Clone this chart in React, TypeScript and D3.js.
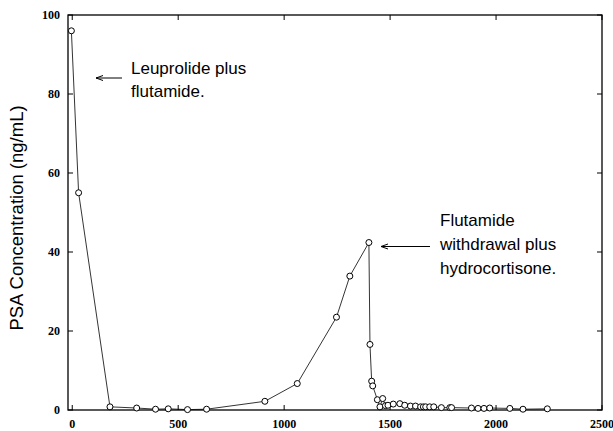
import React from "react";
import * as d3 from "d3";

// days since start of therapy
const days = [-4, 30, 178, 304, 393, 453, 544, 634, 909, 1062, 1247, 1310, 1400, 1405, 1413, 1418,
	1440, 1452, 1465, 1478, 1490, 1515, 1546, 1569, 1596, 1620, 1644, 1657, 1668, 1687, 1706,
	1742, 1782, 1790, 1884, 1915, 1943, 1970, 2065, 2127, 2242];
// PSA (ng/mL)
const psa = [96, 55, 0.8, 0.5, 0.2, 0.3, 0.1, 0.2, 2.2, 6.7, 23.5, 33.9, 42.4, 16.6, 7.3, 6.1,
	2.6, 0.8, 2.9, 1.1, 1.2, 1.5, 1.6, 1.2, 1.0, 1.0, 0.8, 0.8, 0.8, 0.8, 0.8,
	0.6, 0.6, 0.6, 0.5, 0.4, 0.4, 0.5, 0.4, 0.2, 0.3];

const xTicks = [0, 500, 1000, 1500, 2000, 2500];
const yTicks = [0, 20, 40, 60, 80, 100];

const noteA = ["Leuprolide plus", "flutamide."];
const noteB = ["Flutamide", "withdrawal plus", "hydrocortisone."];

export default function App() {

	let layout = {"width": 613, "height": 431,
				  "left": 68, "right": 602, "top": 15, "bottom": 410};

	let xScale = d3.scaleLinear()
					.domain([-20, 2500])
					.range([layout.left, layout.right]);

	let yScale = d3.scaleLinear()
					.domain([0, 100])
					.range([layout.bottom, layout.top]);

	let points = days.map((d, i) => [d, psa[i]]);

	let line = d3.line()
				.x(d => xScale(d[0]))
				.y(d => yScale(d[1]));

	const tickFont = {fontFamily: "Liberation Serif, Times New Roman, serif", fontWeight: "bold", fontSize: 12};
	const sans = "Liberation Sans, Arial, Helvetica, sans-serif";

	return (
		<svg width={layout.width} height={layout.height}
			 style={{position: "absolute", left: 0, top: 0, background: "white"}}>

			<rect x={layout.left} y={layout.top}
				  width={layout.right - layout.left} height={layout.bottom - layout.top}
				  fill="none" stroke="black" strokeWidth={1.3} />

			{xTicks.map(t => (
				<g key={`x${t}`}>
					<line x1={xScale(t)} x2={xScale(t)} y1={layout.bottom} y2={layout.bottom - 5} stroke="black" />
					<line x1={xScale(t)} x2={xScale(t)} y1={layout.top} y2={layout.top + 5} stroke="black" />
					<text x={xScale(t)} y={427.5} textAnchor="middle" style={tickFont}>{t}</text>
				</g>
			))}

			{yTicks.map(t => (
				<g key={`y${t}`}>
					<line x1={layout.left} x2={layout.left + 5} y1={yScale(t)} y2={yScale(t)} stroke="black" />
					<line x1={layout.right} x2={layout.right - 5} y1={yScale(t)} y2={yScale(t)} stroke="black" />
					<text x={layout.left - 8} y={yScale(t) + 4} textAnchor="end" style={tickFont}>{t}</text>
				</g>
			))}

			<text transform="translate(23, 218) rotate(-90)" textAnchor="middle"
				  fontFamily={sans} fontSize={18.5}>PSA Concentration (ng/mL)</text>

			<path d={line(points)} fill="none" stroke="black" strokeWidth={0.8} />

			{points.map((p, i) => (
				<circle key={i} cx={xScale(p[0])} cy={yScale(p[1])} r={3}
						fill="white" stroke="black" strokeWidth={1} />
			))}

			{/* annotations */}
			{noteA.map((s, i) => (
				<text key={s} x={131} y={74 + i * 23} fontFamily={sans} fontSize={17}>{s}</text>
			))}
			<line x1={122} x2={96} y1={78} y2={78} stroke="black" strokeWidth={1} />
			<path d="M96,78 L103,75.5 M96,78 L103,80.5" stroke="black" fill="none" strokeWidth={1} />

			{noteB.map((s, i) => (
				<text key={s} x={440} y={226 + i * 24} fontFamily={sans} fontSize={17}>{s}</text>
			))}
			<line x1={430} x2={381} y1={246.5} y2={246.5} stroke="black" strokeWidth={1} />
			<path d="M381,246.5 L388,244 M381,246.5 L388,249" stroke="black" fill="none" strokeWidth={1} />
		</svg>
	)

}
